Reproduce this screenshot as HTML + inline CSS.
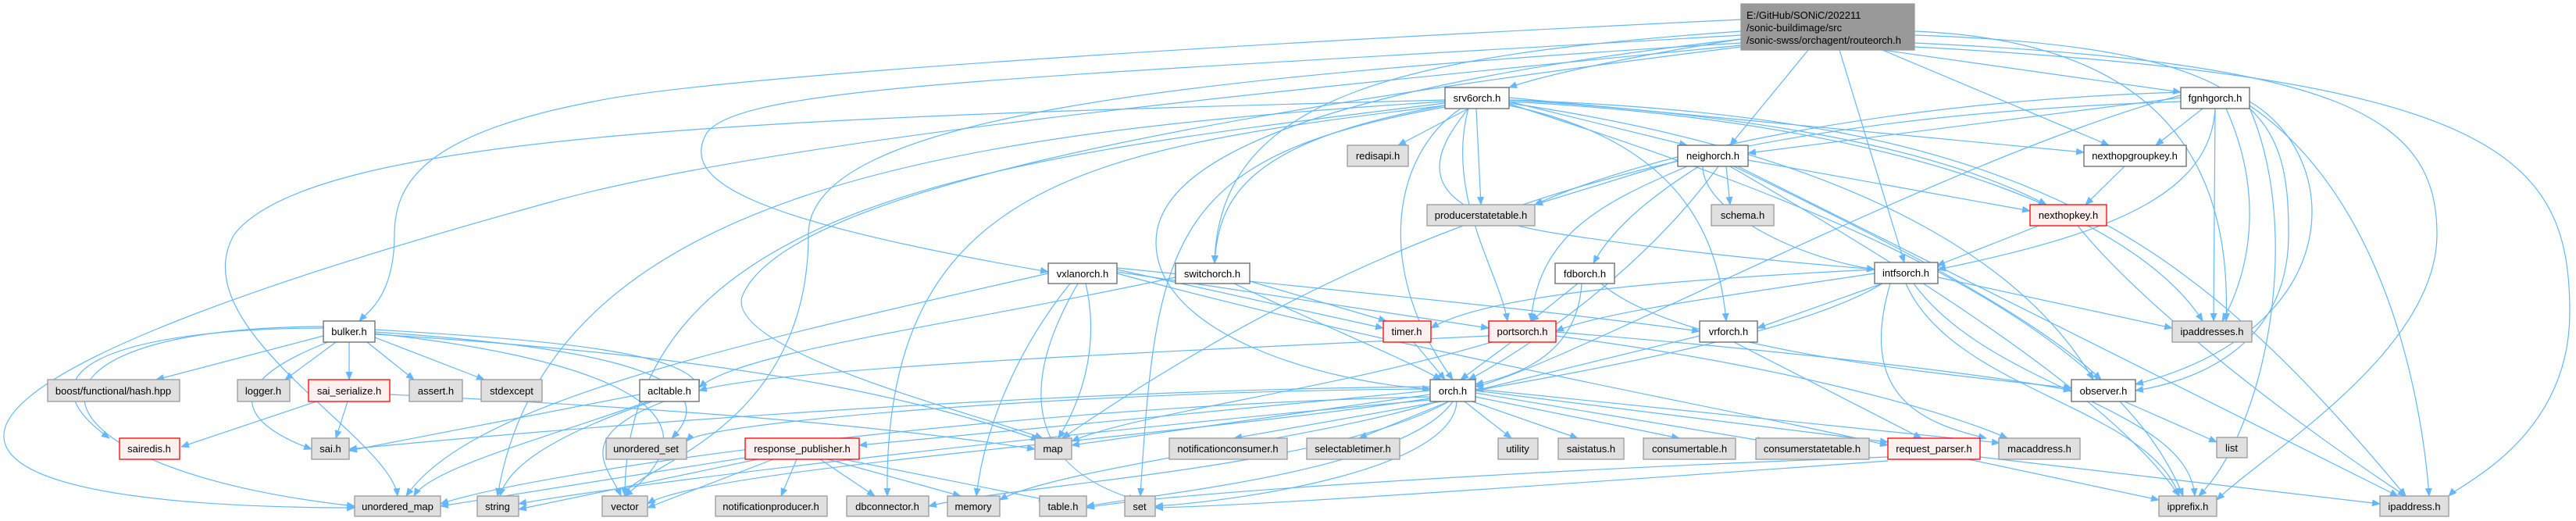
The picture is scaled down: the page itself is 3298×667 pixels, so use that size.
<!DOCTYPE html>
<html><head><meta charset="utf-8"><style>
html,body{margin:0;padding:0;background:#fff;}
svg{display:block;}
text{font-family:"Liberation Sans",Arial,sans-serif;font-size:13px;fill:#000;text-anchor:middle;}
.e{fill:none;stroke:#63b8ff;stroke-width:1.2;marker-end:url(#a);}
.n{fill:#fff;stroke:#666;stroke-width:1.3;}
.g{fill:#e0e0e0;stroke:#999;stroke-width:1.3;}
.r{fill:#fff0f0;stroke:#ff0000;stroke-width:1.3;}
</style></head><body>
<svg width="3298" height="667" viewBox="0 0 3298 667" xmlns="http://www.w3.org/2000/svg">
<defs><marker id="a" markerWidth="11" markerHeight="9" refX="10" refY="4.5" orient="auto" markerUnits="userSpaceOnUse"><path d="M0,0 L11,4.5 L0,9 z" fill="#63b8ff"/></marker></defs>
<g>
<!-- root edges -->
<path class="e" d="M2229 50 C2100 70 1980 95 1932 112"/>
<path class="e" d="M2410 64 L2792 118"/>
<path class="e" d="M2410 64 L2700 186"/>
<path class="e" d="M2315 64 L2215 186"/>
<path class="e" d="M2355 64 L2438 336"/>
<path class="e" d="M2451 60 C3200 100 3290 200 3290 400 C3290 560 3150 620 3135 635"/>
<path class="e" d="M2451 55 C3000 80 3120 150 3120 300 C3120 450 2900 580 2838 640"/>
<path class="e" d="M2451 45 C2900 60 2930 150 2930 300 C2930 450 2800 490 2734 500"/>
<path class="e" d="M2451 40 C2700 50 2860 150 2850 411"/>
<path class="e" d="M2229 25 C1500 60 900 100 760 130 C550 170 505 230 505 300 C505 380 470 400 460 411"/>
<path class="e" d="M2229 58 C1700 110 1000 175 700 260 C300 370 0 480 5 560 C10 640 300 650 454 650"/>
<path class="e" d="M2229 45 C1300 100 950 110 905 170 C870 230 950 280 1342 348"/>
<path class="e" d="M2229 40 C1800 70 1560 120 1555 337"/>
<path class="e" d="M2229 60 C1500 150 1000 250 950 380 C930 450 1250 530 1335 561"/>
<path class="e" d="M2229 50 C1700 110 1480 200 1480 310 C1480 430 1700 490 1831 498"/>
<path class="e" d="M2229 55 C1500 100 1035 150 1035 300 C1035 560 800 600 800 635"/>
<!-- srv6 -->
<path class="e" d="M1880 139 L1790 186"/>
<path class="e" d="M1890 139 L1896 262"/>
<path class="e" d="M1932 130 L2160 186"/>
<path class="e" d="M1932 128 C2300 150 2500 200 2620 262"/>
<path class="e" d="M1932 125 L2668 195"/>
<path class="e" d="M1880 139 C1830 200 1800 270 2000 300 C2200 330 2350 340 2400 345"/>
<path class="e" d="M1932 135 C2150 180 2200 300 2210 411"/>
<path class="e" d="M1880 139 C1850 250 1920 350 1930 411"/>
<path class="e" d="M1870 139 C1780 200 1760 350 1860 486"/>
<path class="e" d="M1932 132 C2400 200 2600 350 2680 486"/>
<path class="e" d="M1932 130 C2500 160 2750 300 2820 411"/>
<path class="e" d="M1932 128 C2600 150 2800 300 3080 635"/>
<path class="e" d="M1932 133 C2300 250 2700 400 2795 635"/>
<path class="e" d="M1850 135 C1600 180 1560 250 1555 337"/>
<path class="e" d="M1850 128 C1000 150 400 170 300 300 C230 420 500 560 509 635"/>
<path class="e" d="M1850 130 C1200 170 700 250 637 635"/>
<path class="e" d="M1850 132 C1300 200 800 250 800 635"/>
<path class="e" d="M1850 135 C1400 190 1130 230 1136 635"/>
<path class="e" d="M1850 137 C1500 200 1480 300 1460 635"/>
<!-- fgnhg -->
<path class="e" d="M2820 139 L2760 186"/>
<path class="e" d="M2792 125 L2238 196"/>
<path class="e" d="M2792 118 C2400 130 2100 200 1965 262"/>
<path class="e" d="M2836 139 C2830 250 2700 300 2481 345"/>
<path class="e" d="M2836 139 L2834 411"/>
<path class="e" d="M2850 139 C2900 250 2880 350 2845 411"/>
<path class="e" d="M2880 130 C3000 200 3010 420 2734 492"/>
<path class="e" d="M2880 135 C3050 250 3100 500 3110 635"/>
<path class="e" d="M2880 138 C2950 300 2900 550 2815 635"/>
<path class="e" d="M2792 122 C2500 200 2000 470 1889 495"/>
<path class="e" d="M2792 130 C2200 150 1800 260 1360 561"/>
<!-- neigh -->
<path class="e" d="M2150 205 L1965 262"/>
<path class="e" d="M2210 213 L2215 262"/>
<path class="e" d="M2238 205 L2599 270"/>
<path class="e" d="M2180 213 C2180 270 2300 330 2400 345"/>
<path class="e" d="M2175 213 C2100 260 2060 300 2040 337"/>
<path class="e" d="M2160 213 C2050 260 1970 300 1960 411"/>
<path class="e" d="M2200 213 C2100 350 1950 450 1880 486"/>
<path class="e" d="M2220 213 C2400 300 2600 400 2690 486"/>
<path class="e" d="M2225 213 C2500 350 2900 550 3070 635"/>
<path class="e" d="M2215 213 C2400 320 2700 500 2790 635"/>
<path class="e" d="M2720 213 L2670 262"/>
<path class="e" d="M2610 289 L2480 340"/>
<path class="e" d="M2660 289 C2750 400 2950 550 3080 635"/>
<!-- intfs -->
<path class="e" d="M2410 363 L2250 420"/>
<path class="e" d="M2400 350 C2200 380 2050 400 1992 424"/>
<path class="e" d="M2410 363 C2300 430 2000 480 1889 500"/>
<path class="e" d="M2481 355 L2781 420"/>
<path class="e" d="M2420 363 C2380 500 2450 540 2543 561"/>
<path class="e" d="M2440 363 C2500 500 2750 520 2790 635"/>
<path class="e" d="M2450 363 C2550 500 2800 520 2810 635"/>
<path class="e" d="M2400 345 C2100 360 1900 380 1832 420"/>
<!-- fdb -->
<path class="e" d="M2020 363 L1960 411"/>
<path class="e" d="M2025 363 C2020 450 1950 480 1889 492"/>
<path class="e" d="M2050 363 C2150 450 2500 480 2652 497"/>
<!-- vxlan -->
<path class="e" d="M1430 345 L1771 420"/>
<path class="e" d="M1430 348 L1906 420"/>
<path class="e" d="M1430 343 C1800 380 2000 400 2176 424"/>
<path class="e" d="M1390 363 C1410 450 1380 520 1355 561"/>
<path class="e" d="M1370 363 C1300 450 1260 550 1250 635"/>
<path class="e" d="M1380 363 C1300 500 1320 600 1455 640"/>
<path class="e" d="M1430 350 C1800 450 2200 520 2417 570"/>
<path class="e" d="M1342 350 C900 450 600 520 520 635"/>
<!-- switch -->
<path class="e" d="M1600 360 L1775 411"/>
<path class="e" d="M1580 363 C1700 420 1800 460 1845 486"/>
<path class="e" d="M1505 355 C1200 420 950 450 895 496"/>
<path class="e" d="M1810 438 L1850 486"/>
<!-- ports -->
<path class="e" d="M1935 438 L1870 486"/>
<path class="e" d="M1906 430 C1500 450 1000 470 895 500"/>
<path class="e" d="M1992 425 C2300 450 2550 480 2652 500"/>
<path class="e" d="M1992 430 C2300 470 2500 530 2570 561"/>
<path class="e" d="M1910 438 C1700 500 1450 530 1372 565"/>
<!-- vrf -->
<path class="e" d="M2220 438 L2460 561"/>
<path class="e" d="M2176 430 L1889 500"/>
<!-- orch -->
<path class="e" d="M1831 505 L1372 570"/>
<path class="e" d="M1845 514 L1580 561"/>
<path class="e" d="M1855 514 L1740 561"/>
<path class="e" d="M1875 514 L1935 561"/>
<path class="e" d="M1885 514 L2020 561"/>
<path class="e" d="M1889 508 L2150 561"/>
<path class="e" d="M1889 503 L2260 565"/>
<path class="e" d="M1889 500 L2417 566"/>
<path class="e" d="M1889 498 L2560 567"/>
<path class="e" d="M1831 500 L1100 570"/>
<path class="e" d="M1831 498 C1400 500 900 540 879 565"/>
<path class="e" d="M1831 495 C1300 500 700 550 447 575"/>
<path class="e" d="M1831 510 C1500 560 900 600 829 645"/>
<path class="e" d="M1865 514 C1860 600 1600 640 1479 648"/>
<path class="e" d="M1860 514 C1800 600 1500 630 1391 648"/>
<path class="e" d="M1855 514 C1700 600 1300 620 1189 648"/>
<path class="e" d="M1840 514 C1700 560 1350 600 1280 640"/>
<path class="e" d="M1831 508 C1300 520 700 600 564 645"/>
<path class="e" d="M1831 512 C1300 560 800 620 664 645"/>
<!-- bulker -->
<path class="e" d="M414 430 L200 486"/>
<path class="e" d="M430 438 L365 486"/>
<path class="e" d="M447 438 L447 486"/>
<path class="e" d="M470 438 L530 486"/>
<path class="e" d="M480 432 L620 486"/>
<path class="e" d="M414 420 C200 420 0 460 140 561"/>
<path class="e" d="M420 438 C260 500 330 550 399 575"/>
<path class="e" d="M480 425 C700 440 950 470 860 561"/>
<path class="e" d="M414 418 C-20 420 20 600 454 648"/>
<path class="e" d="M480 422 C700 435 880 450 895 496"/>
<path class="e" d="M480 428 C1000 460 1200 520 1330 563"/>
<path class="e" d="M480 427 C700 450 960 510 800 635"/>
<!-- sai_serialize / acltable -->
<path class="e" d="M405 514 L232 572"/>
<path class="e" d="M445 514 L430 561"/>
<path class="e" d="M499 505 C800 520 1100 540 1325 575"/>
<path class="e" d="M819 505 L447 577"/>
<path class="e" d="M830 514 C700 560 550 600 530 635"/>
<path class="e" d="M835 514 C700 560 650 600 640 635"/>
<path class="e" d="M850 514 C730 560 780 600 795 635"/>
<!-- response_publisher -->
<path class="e" d="M960 585 L564 648"/>
<path class="e" d="M970 588 L664 652"/>
<path class="e" d="M990 588 L829 650"/>
<path class="e" d="M1020 588 L1000 635"/>
<path class="e" d="M1050 588 L1120 635"/>
<path class="e" d="M1060 588 L1230 635"/>
<path class="e" d="M1080 588 L1340 640"/>
<!-- request_parser -->
<path class="e" d="M2520 588 L2764 640"/>
<path class="e" d="M2535 585 L3047 645"/>
<path class="e" d="M2417 585 C2000 600 1500 630 1391 650"/>
<path class="e" d="M2417 590 C2000 620 1600 648 1479 650"/>
<path class="e" d="M2720 514 L2838 566"/>
</g>
<g>
<rect class="g" x="2229" y="5" width="222" height="59" style="fill:#999"/>
<text x="2236" y="24" style="text-anchor:start">E:/GitHub/SONiC/202211</text>
<text x="2236" y="40" style="text-anchor:start">/sonic-buildimage/src</text>
<text x="2236" y="56" style="text-anchor:start">/sonic-swss/orchagent/routeorch.h</text>

<rect class="n" x="1850" y="112" width="82" height="27"/><text x="1891" y="130">srv6orch.h</text>
<rect class="n" x="2792" y="112" width="88" height="27"/><text x="2836" y="130">fgnhgorch.h</text>
<rect class="n" x="2148" y="186" width="90" height="27"/><text x="2193" y="204">neighorch.h</text>
<rect class="n" x="2668" y="186" width="131" height="27"/><text x="2733" y="204">nexthopgroupkey.h</text>
<rect class="g" x="1725" y="186" width="78" height="27"/><text x="1764" y="204">redisapi.h</text>
<rect class="g" x="1827" y="262" width="138" height="27"/><text x="1896" y="280">producerstatetable.h</text>
<rect class="g" x="2191" y="262" width="80" height="27"/><text x="2231" y="280">schema.h</text>
<rect class="r" x="2599" y="262" width="98" height="27"/><text x="2648" y="280">nexthopkey.h</text>
<rect class="n" x="1342" y="337" width="88" height="26"/><text x="1386" y="355">vxlanorch.h</text>
<rect class="n" x="1505" y="337" width="95" height="26"/><text x="1552" y="355">switchorch.h</text>
<rect class="n" x="1991" y="337" width="76" height="26"/><text x="2029" y="355">fdborch.h</text>
<rect class="n" x="2400" y="336" width="81" height="27"/><text x="2440" y="354">intfsorch.h</text>
<rect class="n" x="414" y="411" width="66" height="27"/><text x="447" y="429">bulker.h</text>
<rect class="r" x="1771" y="411" width="61" height="27"/><text x="1801" y="429">timer.h</text>
<rect class="r" x="1906" y="411" width="86" height="27"/><text x="1949" y="429">portsorch.h</text>
<rect class="n" x="2176" y="411" width="74" height="27"/><text x="2213" y="429">vrforch.h</text>
<rect class="g" x="2781" y="411" width="102" height="27"/><text x="2832" y="429">ipaddresses.h</text>
<rect class="g" x="61" y="486" width="169" height="28"/><text x="145" y="505">boost/functional/hash.hpp</text>
<rect class="g" x="304" y="486" width="67" height="28"/><text x="337" y="505">logger.h</text>
<rect class="r" x="395" y="486" width="104" height="28"/><text x="447" y="505">sai_serialize.h</text>
<rect class="g" x="524" y="486" width="68" height="28"/><text x="558" y="505">assert.h</text>
<rect class="g" x="616" y="486" width="78" height="28"/><text x="655" y="505">stdexcept</text>
<rect class="n" x="819" y="486" width="76" height="28"/><text x="857" y="505">acltable.h</text>
<rect class="n" x="1831" y="486" width="58" height="28"/><text x="1860" y="505">orch.h</text>
<rect class="n" x="2652" y="486" width="82" height="28"/><text x="2693" y="505">observer.h</text>
<rect class="r" x="153" y="561" width="77" height="27"/><text x="191" y="579">sairedis.h</text>
<rect class="g" x="399" y="561" width="48" height="27"/><text x="423" y="579">sai.h</text>
<rect class="g" x="776" y="561" width="103" height="27"/><text x="827" y="579">unordered_set</text>
<rect class="r" x="954" y="561" width="146" height="27"/><text x="1027" y="579">response_publisher.h</text>
<rect class="g" x="1325" y="561" width="47" height="27"/><text x="1348" y="579">map</text>
<rect class="g" x="1497" y="561" width="151" height="27"/><text x="1572" y="579">notificationconsumer.h</text>
<rect class="g" x="1673" y="561" width="119" height="27"/><text x="1732" y="579">selectabletimer.h</text>
<rect class="g" x="1918" y="561" width="51" height="27"/><text x="1943" y="579">utility</text>
<rect class="g" x="1995" y="561" width="84" height="27"/><text x="2037" y="579">saistatus.h</text>
<rect class="g" x="2104" y="561" width="118" height="27"/><text x="2163" y="579">consumertable.h</text>
<rect class="g" x="2248" y="561" width="145" height="27"/><text x="2320" y="579">consumerstatetable.h</text>
<rect class="r" x="2417" y="561" width="118" height="27"/><text x="2476" y="579">request_parser.h</text>
<rect class="g" x="2559" y="561" width="104" height="27"/><text x="2611" y="579">macaddress.h</text>
<rect class="g" x="2838" y="560" width="39" height="26"/><text x="2857" y="578">list</text>
<rect class="g" x="454" y="635" width="110" height="26"/><text x="509" y="653">unordered_map</text>
<rect class="g" x="611" y="635" width="53" height="26"/><text x="637" y="653">string</text>
<rect class="g" x="771" y="635" width="58" height="26"/><text x="800" y="653">vector</text>
<rect class="g" x="916" y="635" width="143" height="26"/><text x="987" y="653">notificationproducer.h</text>
<rect class="g" x="1084" y="635" width="105" height="26"/><text x="1136" y="653">dbconnector.h</text>
<rect class="g" x="1213" y="635" width="67" height="26"/><text x="1246" y="653">memory</text>
<rect class="g" x="1331" y="635" width="60" height="26"/><text x="1361" y="653">table.h</text>
<rect class="g" x="1440" y="635" width="39" height="26"/><text x="1459" y="653">set</text>
<rect class="g" x="2764" y="635" width="74" height="26"/><text x="2801" y="653">ipprefix.h</text>
<rect class="g" x="3047" y="635" width="88" height="26"/><text x="3091" y="653">ipaddress.h</text>
</g>
</svg>
</body></html>
